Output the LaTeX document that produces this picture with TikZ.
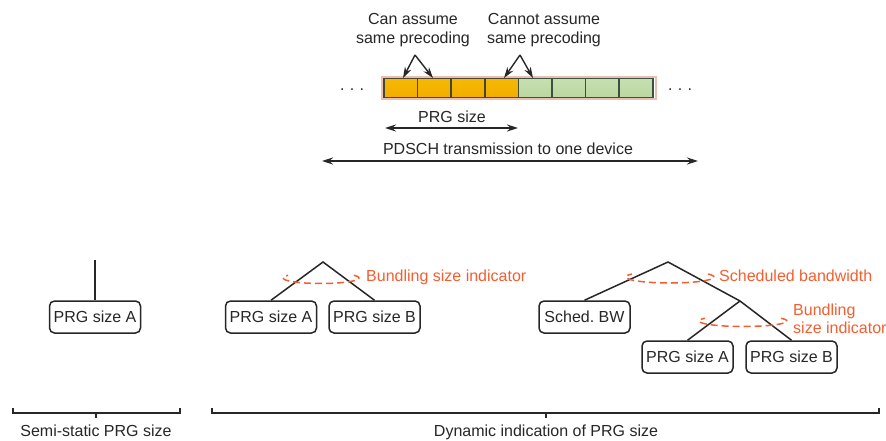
\documentclass[tikz,border=0pt]{standalone}
\usepackage{fontspec}
\setmainfont{Liberation Sans}
\usetikzlibrary{arrows.meta}
\definecolor{txt}{RGB}{40,38,38}
\definecolor{lbl}{RGB}{242,95,50}
\definecolor{orT}{RGB}{246,184,0}
\definecolor{orM}{RGB}{255,214,30}
\definecolor{orB}{RGB}{242,174,0}
\definecolor{grT}{RGB}{198,223,174}
\definecolor{grM}{RGB}{234,243,218}
\definecolor{grB}{RGB}{188,215,162}
\definecolor{strip}{RGB}{236,190,178}
\definecolor{oedge}{RGB}{70,70,55}
\definecolor{gedge}{RGB}{60,80,65}
\tikzset{
  lab/.style={font=\fontsize{16}{18.5}\selectfont, text=txt, inner sep=0pt},
  olab/.style={font=\fontsize{16}{18.5}\selectfont, text=lbl, inner sep=0pt, anchor=west, align=left},
  prg/.style={draw=txt, line width=1.5pt, rounded corners=5pt, minimum width=91pt, minimum height=32pt, inner sep=1pt, font=\fontsize{16}{18.5}\selectfont, text=txt},
  tree/.style={draw=txt, line width=1.5pt},
  ell/.style={draw=lbl, line width=1.5pt, dash pattern=on 7pt off 4pt},
  oblk/.style={draw=oedge, line width=1.6pt, minimum width=33.6pt, minimum height=19pt, inner sep=0pt, top color=orT, middle color=orM, bottom color=orB},
  gblk/.style={draw=gedge, line width=1.6pt, minimum width=33.6pt, minimum height=19pt, inner sep=0pt, top color=grT, middle color=grM, bottom color=grB},
  arr/.style={draw=txt, line width=1.4pt, -{Stealth[length=11pt,width=7pt]}},
  darr/.style={draw=txt, line width=1.4pt, {Stealth[length=11pt,width=7pt]}-{Stealth[length=11pt,width=7pt]}},
  brk/.style={draw=txt, line width=1.5pt}
}
\begin{document}
\begin{tikzpicture}[x=1pt,y=-1pt]
\useasboundingbox[fill=white] (0,0) rectangle (886,441);

% top texts
\node[lab, align=center] (can) at (413,30) {Can assume\\same precoding};
\node[lab, align=center] (cannot) at (544,30) {Cannot assume\\same precoding};

% strip of blocks
\draw[strip, line width=1.2pt] (382,77) rectangle (656,99);
\foreach \i in {0,...,3} {
  \node[oblk] (b\i) at ({384+33.6*\i+16.8},88) {};
}
\foreach \i in {4,...,7} {
  \node[gblk] (b\i) at ({384+33.6*\i+16.8},88) {};
}
\node[lab] (dl) at (352,90) {.\,\,.\,\,.};
\node[lab] (dr) at (680,90) {.\,\,.\,\,.};

% arrows to blocks
\coordinate (a1) at (415,55);
\coordinate (a2) at (520,55);
\draw[arr] (a1) -- (403,78);
\draw[arr] (a1) -- (433,78);
\draw[arr] (a2) -- (504,78);
\draw[arr] (a2) -- (533,78);

% PRG size arrow
\node[lab] (prgl) at (452,117) {PRG size};
\coordinate (p1) at (385,128);
\coordinate (p2) at (518,128);
\draw[darr] (p1) -- (p2);

% PDSCH arrow
\node[lab] (pdl) at (508,149) {PDSCH transmission to one device};
\coordinate (q1) at (322,161);
\coordinate (q2) at (698,161);
\draw[darr] (q1) -- (q2);

% left tree
\coordinate (lt) at (95,260);
\node[prg] (lA) at (95,317) {PRG size A};
\draw[tree] (lt) -- (lA.north);

% middle tree
\coordinate (m0) at (323,262);
\node[prg] (mA) at (271,317) {PRG size A};
\node[prg] (mB) at (374.5,317) {PRG size B};
\draw[tree] (mA.north) -- (m0) -- (mB.north);
\draw[ell] (321,278) ++(-30:38 and 5.5) arc[start angle=-30, end angle=210, x radius=38, y radius=5.5];
\node[olab] (bsi1) at (366,277) {Bundling size indicator};

% right tree
\coordinate (r0) at (668,262);
\coordinate (r1) at (740,301);
\node[prg] (rS) at (584.5,317) {Sched.\ BW};
\node[prg] (rA) at (687.5,357) {PRG size A};
\node[prg] (rB) at (791.5,357) {PRG size B};
\draw[tree] (rS.north) -- (r0) -- (r1) -- (rB.north);
\draw[tree] (r1) -- (rA.north);
\draw[ell] (670,277) ++(-30:44 and 6) arc[start angle=-30, end angle=210, x radius=44, y radius=6];
\node[olab] (sbw) at (719,276) {Scheduled bandwidth};
\draw[ell] (743,321) ++(-30:44 and 5.5) arc[start angle=-30, end angle=210, x radius=44, y radius=5.5];
\node[olab] (bsi2) at (793,319) {Bundling\\size indicator};

% brackets
\coordinate (k1) at (13,408);
\coordinate (k2) at (180,408);
\coordinate (km) at (96,413);
\draw[brk] (k1) |- (km) -| (k2);
\draw[brk] (km) -- ++(0,5);
\node[lab] (ss) at (96,431) {Semi-static PRG size};

\coordinate (d1) at (212,408);
\coordinate (d2) at (879,408);
\coordinate (dm) at (546,413);
\draw[brk] (d1) |- (dm) -| (d2);
\draw[brk] (dm) -- ++(0,5);
\node[lab] (dy) at (546,432) {Dynamic indication of PRG size};
\end{tikzpicture}
\end{document}
